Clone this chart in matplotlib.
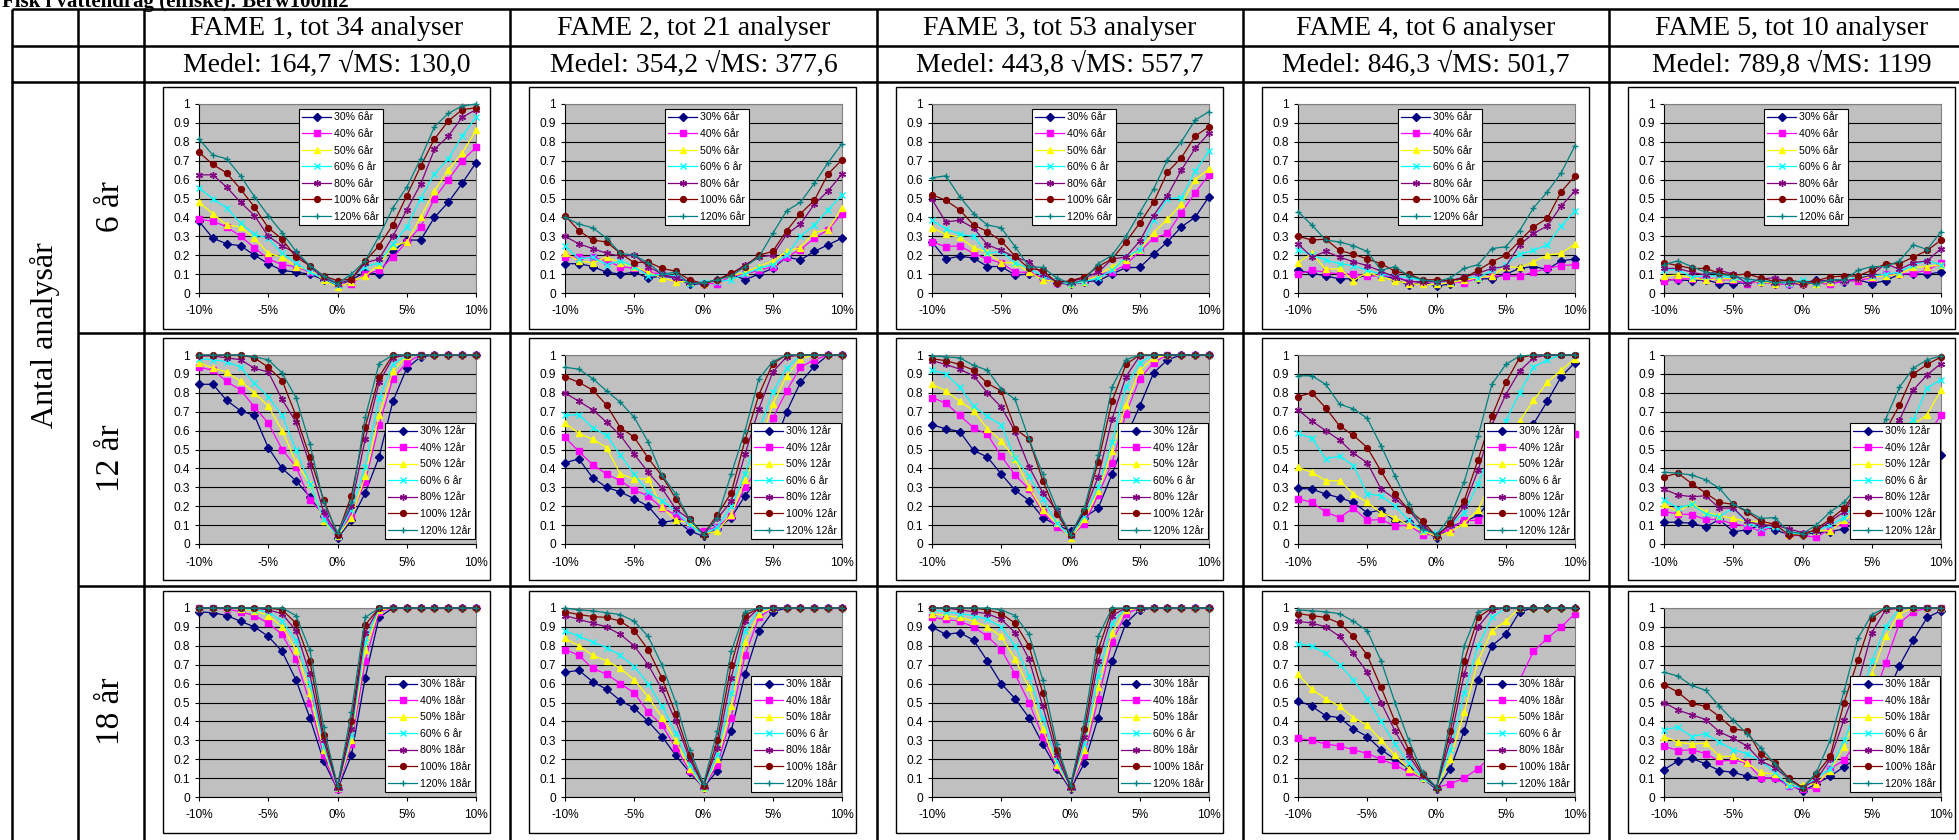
import matplotlib.pyplot as plt
from matplotlib.lines import Line2D
from matplotlib.patches import Rectangle

W, H = 1959, 840

x_pct = list(range(-10, 11))
x_ticks = [-10, -5, 0, 5, 10]
x_ticklabels = ['-10%', '-5%', '0%', '5%', '10%']
y_ticks = [i / 10 for i in range(11)]
y_ticklabels = ['0', '0.1', '0.2', '0.3', '0.4', '0.5', '0.6', '0.7', '0.8', '0.9', '1']

fame_titles = ['FAME 1, tot 34 analyser', 'FAME 2, tot 21 analyser', 'FAME 3, tot 53 analyser',
               'FAME 4, tot 6 analyser', 'FAME 5, tot 10 analyser']
fame_stats = ['Medel: 164,7 √MS: 130,0', 'Medel: 354,2 √MS: 377,6', 'Medel: 443,8 √MS: 557,7',
              'Medel: 846,3 √MS: 501,7', 'Medel: 789,8 √MS: 1199']
row_labels = ['6 år', '12 år', '18 år']
legend_6 = ['30% 6år', '40% 6år', '50% 6år', '60% 6 år', '80% 6år', '100% 6år', '120% 6år']
legend_12 = ['30% 12år', '40% 12år', '50% 12år', '60% 6 år', '80% 12år', '100% 12år', '120% 12år']
legend_18 = ['30% 18år', '40% 18år', '50% 18år', '60% 6 år', '80% 18år', '100% 18år', '120% 18år']

# 6 år
f1_6 = [
    [0.38, 0.29, 0.26, 0.25, 0.20, 0.155, 0.12, 0.11, 0.10, 0.07, 0.04, 0.07, 0.11, 0.10, 0.22, 0.28, 0.28, 0.40, 0.48, 0.58, 0.69],
    [0.39, 0.38, 0.35, 0.30, 0.24, 0.18, 0.15, 0.14, 0.11, 0.08, 0.05, 0.05, 0.10, 0.12, 0.19, 0.27, 0.35, 0.50, 0.60, 0.70, 0.77],
    [0.48, 0.42, 0.36, 0.35, 0.29, 0.21, 0.19, 0.14, 0.12, 0.07, 0.03, 0.06, 0.09, 0.15, 0.25, 0.27, 0.40, 0.54, 0.65, 0.74, 0.86],
    [0.555, 0.50, 0.45, 0.37, 0.31, 0.29, 0.21, 0.16, 0.11, 0.08, 0.04, 0.08, 0.14, 0.16, 0.26, 0.35, 0.50, 0.63, 0.71, 0.83, 0.93],
    [0.625, 0.625, 0.56, 0.48, 0.41, 0.30, 0.25, 0.21, 0.14, 0.08, 0.05, 0.07, 0.16, 0.18, 0.30, 0.44, 0.575, 0.76, 0.83, 0.93, 0.97],
    [0.745, 0.68, 0.635, 0.55, 0.455, 0.345, 0.285, 0.19, 0.145, 0.09, 0.065, 0.075, 0.17, 0.25, 0.36, 0.515, 0.67, 0.815, 0.91, 0.97, 0.98],
    [0.815, 0.73, 0.71, 0.62, 0.51, 0.41, 0.32, 0.22, 0.145, 0.09, 0.05, 0.10, 0.17, 0.30, 0.45, 0.56, 0.71, 0.88, 0.95, 0.99, 1.0],
]
f2_6 = [
    [0.155, 0.155, 0.14, 0.11, 0.10, 0.11, 0.08, 0.09, 0.08, 0.045, 0.05, 0.07, 0.10, 0.07, 0.10, 0.13, 0.19, 0.175, 0.22, 0.255, 0.29],
    [0.19, 0.19, 0.19, 0.17, 0.14, 0.13, 0.11, 0.10, 0.08, 0.06, 0.05, 0.05, 0.09, 0.10, 0.12, 0.14, 0.19, 0.23, 0.29, 0.335, 0.42],
    [0.21, 0.17, 0.16, 0.19, 0.16, 0.14, 0.11, 0.08, 0.06, 0.06, 0.05, 0.07, 0.09, 0.11, 0.14, 0.17, 0.22, 0.24, 0.32, 0.335, 0.45],
    [0.25, 0.18, 0.19, 0.15, 0.17, 0.14, 0.09, 0.10, 0.09, 0.05, 0.06, 0.06, 0.07, 0.10, 0.13, 0.15, 0.20, 0.30, 0.36, 0.44, 0.52],
    [0.30, 0.26, 0.235, 0.21, 0.195, 0.20, 0.14, 0.10, 0.08, 0.06, 0.05, 0.07, 0.10, 0.15, 0.19, 0.20, 0.31, 0.365, 0.47, 0.54, 0.63],
    [0.41, 0.33, 0.28, 0.27, 0.21, 0.16, 0.165, 0.13, 0.115, 0.07, 0.05, 0.07, 0.105, 0.14, 0.20, 0.22, 0.33, 0.42, 0.49, 0.63, 0.705],
    [0.40, 0.365, 0.345, 0.29, 0.21, 0.20, 0.16, 0.10, 0.11, 0.05, 0.055, 0.07, 0.09, 0.14, 0.19, 0.315, 0.435, 0.48, 0.58, 0.69, 0.79],
]
f3_6 = [
    [0.27, 0.18, 0.195, 0.185, 0.14, 0.14, 0.095, 0.10, 0.08, 0.055, 0.045, 0.06, 0.065, 0.10, 0.135, 0.135, 0.205, 0.27, 0.35, 0.40, 0.51],
    [0.27, 0.245, 0.25, 0.21, 0.18, 0.16, 0.11, 0.11, 0.08, 0.055, 0.055, 0.06, 0.10, 0.11, 0.15, 0.22, 0.29, 0.315, 0.425, 0.53, 0.625],
    [0.345, 0.31, 0.295, 0.24, 0.215, 0.16, 0.16, 0.11, 0.07, 0.06, 0.05, 0.06, 0.095, 0.14, 0.175, 0.23, 0.32, 0.39, 0.47, 0.60, 0.655],
    [0.385, 0.34, 0.31, 0.30, 0.21, 0.22, 0.16, 0.13, 0.09, 0.06, 0.05, 0.06, 0.08, 0.12, 0.19, 0.23, 0.385, 0.50, 0.505, 0.645, 0.75],
    [0.495, 0.375, 0.385, 0.345, 0.255, 0.225, 0.19, 0.165, 0.10, 0.06, 0.06, 0.08, 0.11, 0.18, 0.19, 0.275, 0.41, 0.515, 0.65, 0.765, 0.845],
    [0.52, 0.49, 0.44, 0.36, 0.325, 0.275, 0.195, 0.13, 0.12, 0.055, 0.065, 0.085, 0.14, 0.18, 0.27, 0.37, 0.48, 0.64, 0.715, 0.83, 0.88],
    [0.61, 0.62, 0.51, 0.42, 0.36, 0.345, 0.245, 0.14, 0.135, 0.08, 0.05, 0.07, 0.155, 0.20, 0.30, 0.425, 0.55, 0.705, 0.80, 0.915, 0.96],
]
f4_6 = [
    [0.12, 0.105, 0.09, 0.075, 0.075, 0.095, 0.095, 0.075, 0.04, 0.06, 0.035, 0.05, 0.08, 0.075, 0.075, 0.10, 0.13, 0.14, 0.125, 0.17, 0.18],
    [0.10, 0.12, 0.11, 0.10, 0.10, 0.09, 0.09, 0.09, 0.06, 0.06, 0.06, 0.06, 0.055, 0.08, 0.09, 0.09, 0.09, 0.11, 0.13, 0.145, 0.15],
    [0.16, 0.21, 0.125, 0.13, 0.065, 0.11, 0.085, 0.065, 0.05, 0.045, 0.045, 0.055, 0.07, 0.08, 0.09, 0.14, 0.135, 0.165, 0.20, 0.21, 0.26],
    [0.23, 0.20, 0.175, 0.155, 0.145, 0.12, 0.10, 0.09, 0.08, 0.065, 0.06, 0.06, 0.085, 0.08, 0.12, 0.15, 0.205, 0.225, 0.255, 0.355, 0.435],
    [0.26, 0.19, 0.22, 0.19, 0.165, 0.145, 0.115, 0.085, 0.06, 0.06, 0.06, 0.065, 0.085, 0.105, 0.13, 0.14, 0.255, 0.315, 0.355, 0.46, 0.54],
    [0.30, 0.28, 0.285, 0.225, 0.205, 0.18, 0.155, 0.115, 0.10, 0.07, 0.07, 0.065, 0.08, 0.12, 0.165, 0.20, 0.275, 0.35, 0.395, 0.535, 0.62],
    [0.43, 0.36, 0.28, 0.27, 0.25, 0.22, 0.12, 0.14, 0.09, 0.07, 0.06, 0.08, 0.13, 0.15, 0.235, 0.245, 0.33, 0.45, 0.535, 0.635, 0.78],
]
f5_6 = [
    [0.07, 0.07, 0.065, 0.07, 0.05, 0.05, 0.055, 0.06, 0.05, 0.05, 0.05, 0.07, 0.06, 0.06, 0.07, 0.05, 0.065, 0.10, 0.10, 0.10, 0.11],
    [0.065, 0.075, 0.075, 0.08, 0.07, 0.07, 0.05, 0.06, 0.045, 0.05, 0.05, 0.055, 0.045, 0.065, 0.065, 0.08, 0.10, 0.10, 0.105, 0.12, 0.16],
    [0.09, 0.095, 0.08, 0.07, 0.075, 0.075, 0.06, 0.06, 0.05, 0.06, 0.045, 0.05, 0.06, 0.07, 0.08, 0.085, 0.09, 0.10, 0.135, 0.14, 0.15],
    [0.12, 0.125, 0.085, 0.09, 0.09, 0.08, 0.06, 0.065, 0.06, 0.05, 0.07, 0.055, 0.07, 0.065, 0.085, 0.09, 0.10, 0.11, 0.15, 0.17, 0.15],
    [0.13, 0.13, 0.11, 0.095, 0.12, 0.10, 0.05, 0.075, 0.08, 0.06, 0.04, 0.06, 0.07, 0.065, 0.075, 0.095, 0.155, 0.125, 0.16, 0.17, 0.235],
    [0.16, 0.145, 0.13, 0.13, 0.105, 0.095, 0.10, 0.08, 0.06, 0.07, 0.055, 0.065, 0.085, 0.09, 0.09, 0.12, 0.155, 0.155, 0.19, 0.225, 0.28],
    [0.15, 0.17, 0.14, 0.11, 0.10, 0.09, 0.075, 0.065, 0.055, 0.06, 0.06, 0.045, 0.07, 0.07, 0.12, 0.14, 0.14, 0.17, 0.255, 0.23, 0.325],
]

# 12 år
f1_12 = [
    [0.845, 0.845, 0.76, 0.705, 0.68, 0.51, 0.40, 0.335, 0.25, 0.15, 0.03, 0.125, 0.27, 0.46, 0.755, 0.93, 0.99, 1, 1, 1, 1],
    [0.935, 0.92, 0.86, 0.815, 0.725, 0.64, 0.50, 0.41, 0.235, 0.155, 0.04, 0.155, 0.33, 0.63, 0.875, 0.96, 1, 1, 1, 1, 1],
    [0.96, 0.93, 0.91, 0.86, 0.80, 0.73, 0.60, 0.435, 0.32, 0.12, 0.04, 0.14, 0.36, 0.68, 0.915, 0.995, 1, 1, 1, 1, 1],
    [0.98, 0.975, 0.965, 0.935, 0.85, 0.78, 0.68, 0.50, 0.32, 0.13, 0.04, 0.18, 0.41, 0.77, 0.95, 1, 1, 1, 1, 1, 1],
    [0.995, 0.995, 0.985, 0.975, 0.93, 0.91, 0.765, 0.645, 0.42, 0.17, 0.05, 0.20, 0.555, 0.855, 0.985, 1, 1, 1, 1, 1, 1],
    [1, 1, 1, 1, 0.985, 0.935, 0.865, 0.68, 0.46, 0.235, 0.05, 0.255, 0.62, 0.885, 1, 1, 1, 1, 1, 1, 1],
    [1, 1, 1, 1, 0.99, 0.975, 0.905, 0.775, 0.53, 0.22, 0.06, 0.22, 0.67, 0.955, 1, 1, 1, 1, 1, 1, 1],
]
f2_12 = [
    [0.43, 0.45, 0.35, 0.30, 0.275, 0.24, 0.20, 0.115, 0.125, 0.07, 0.04, 0.08, 0.14, 0.255, 0.355, 0.50, 0.70, 0.855, 0.94, 1, 1],
    [0.565, 0.49, 0.42, 0.37, 0.335, 0.285, 0.255, 0.19, 0.155, 0.10, 0.07, 0.09, 0.15, 0.30, 0.41, 0.665, 0.81, 0.935, 0.975, 1, 1],
    [0.64, 0.585, 0.555, 0.51, 0.37, 0.345, 0.345, 0.195, 0.125, 0.115, 0.05, 0.07, 0.155, 0.34, 0.51, 0.74, 0.89, 0.98, 1, 1, 1],
    [0.68, 0.685, 0.615, 0.575, 0.47, 0.37, 0.275, 0.23, 0.175, 0.10, 0.05, 0.09, 0.20, 0.37, 0.60, 0.805, 0.93, 1, 1, 1, 1],
    [0.80, 0.755, 0.71, 0.645, 0.575, 0.475, 0.38, 0.295, 0.185, 0.13, 0.05, 0.135, 0.225, 0.475, 0.715, 0.91, 0.99, 1, 1, 1, 1],
    [0.885, 0.855, 0.815, 0.735, 0.615, 0.565, 0.455, 0.36, 0.24, 0.13, 0.05, 0.155, 0.27, 0.55, 0.79, 0.955, 1, 1, 1, 1, 1],
    [0.935, 0.925, 0.875, 0.81, 0.75, 0.67, 0.54, 0.365, 0.265, 0.13, 0.05, 0.14, 0.37, 0.60, 0.875, 0.965, 1, 1, 1, 1, 1],
]
f3_12 = [
    [0.63, 0.61, 0.595, 0.495, 0.46, 0.37, 0.285, 0.23, 0.14, 0.10, 0.07, 0.14, 0.19, 0.37, 0.565, 0.73, 0.905, 0.975, 1, 1, 1],
    [0.775, 0.745, 0.68, 0.615, 0.58, 0.465, 0.365, 0.29, 0.17, 0.09, 0.04, 0.105, 0.26, 0.43, 0.69, 0.875, 0.96, 1, 1, 1, 1],
    [0.845, 0.81, 0.755, 0.705, 0.61, 0.545, 0.45, 0.30, 0.18, 0.11, 0.03, 0.13, 0.28, 0.49, 0.735, 0.92, 0.985, 1, 1, 1, 1],
    [0.92, 0.90, 0.83, 0.73, 0.675, 0.63, 0.455, 0.36, 0.24, 0.11, 0.04, 0.15, 0.30, 0.54, 0.83, 0.96, 1, 1, 1, 1, 1],
    [0.97, 0.95, 0.925, 0.89, 0.80, 0.725, 0.595, 0.41, 0.27, 0.18, 0.05, 0.17, 0.355, 0.66, 0.885, 0.995, 1, 1, 1, 1, 1],
    [0.98, 0.97, 0.95, 0.92, 0.85, 0.81, 0.61, 0.555, 0.335, 0.16, 0.05, 0.175, 0.435, 0.755, 0.95, 1, 1, 1, 1, 1, 1],
    [0.995, 0.99, 0.985, 0.945, 0.92, 0.82, 0.765, 0.555, 0.37, 0.19, 0.05, 0.19, 0.47, 0.83, 0.975, 1, 1, 1, 1, 1, 1],
]
f4_12 = [
    [0.295, 0.29, 0.265, 0.245, 0.22, 0.165, 0.18, 0.12, 0.115, 0.08, 0.03, 0.09, 0.12, 0.15, 0.24, 0.40, 0.555, 0.635, 0.755, 0.885, 0.96],
    [0.24, 0.22, 0.17, 0.14, 0.19, 0.125, 0.13, 0.095, 0.10, 0.05, 0.05, 0.08, 0.125, 0.125, 0.18, 0.27, 0.41, 0.51, 0.555, 0.58, 0.58],
    [0.405, 0.38, 0.335, 0.335, 0.265, 0.22, 0.165, 0.14, 0.10, 0.07, 0.04, 0.065, 0.11, 0.18, 0.34, 0.53, 0.65, 0.76, 0.855, 0.92, 0.98],
    [0.585, 0.56, 0.45, 0.465, 0.415, 0.265, 0.255, 0.20, 0.125, 0.07, 0.06, 0.10, 0.165, 0.32, 0.50, 0.65, 0.80, 0.935, 0.975, 1, 1],
    [0.71, 0.65, 0.60, 0.55, 0.48, 0.43, 0.29, 0.24, 0.18, 0.09, 0.05, 0.10, 0.20, 0.39, 0.63, 0.79, 0.915, 0.985, 1, 1, 1],
    [0.78, 0.80, 0.72, 0.625, 0.575, 0.51, 0.385, 0.265, 0.18, 0.12, 0.04, 0.11, 0.23, 0.445, 0.675, 0.855, 0.985, 1, 1, 1, 1],
    [0.89, 0.89, 0.845, 0.74, 0.715, 0.665, 0.52, 0.36, 0.21, 0.08, 0.05, 0.145, 0.33, 0.57, 0.845, 0.95, 0.995, 1, 1, 1, 1],
]
f5_12 = [
    [0.115, 0.115, 0.11, 0.09, 0.13, 0.065, 0.075, 0.10, 0.075, 0.05, 0.05, 0.06, 0.065, 0.08, 0.12, 0.17, 0.24, 0.30, 0.37, 0.43, 0.47],
    [0.17, 0.16, 0.155, 0.13, 0.13, 0.105, 0.095, 0.065, 0.10, 0.045, 0.045, 0.035, 0.08, 0.11, 0.12, 0.20, 0.28, 0.35, 0.45, 0.58, 0.68],
    [0.21, 0.17, 0.215, 0.17, 0.15, 0.135, 0.12, 0.12, 0.10, 0.05, 0.05, 0.07, 0.07, 0.125, 0.18, 0.30, 0.45, 0.56, 0.63, 0.685, 0.815],
    [0.235, 0.19, 0.21, 0.16, 0.145, 0.19, 0.11, 0.085, 0.09, 0.06, 0.05, 0.07, 0.10, 0.14, 0.23, 0.38, 0.50, 0.60, 0.655, 0.825, 0.87],
    [0.29, 0.26, 0.25, 0.255, 0.19, 0.19, 0.12, 0.10, 0.10, 0.08, 0.06, 0.07, 0.12, 0.17, 0.29, 0.45, 0.55, 0.655, 0.815, 0.895, 0.955],
    [0.355, 0.375, 0.32, 0.27, 0.22, 0.21, 0.17, 0.12, 0.105, 0.05, 0.045, 0.08, 0.13, 0.19, 0.295, 0.45, 0.60, 0.735, 0.90, 0.95, 0.99],
    [0.38, 0.375, 0.365, 0.34, 0.295, 0.21, 0.175, 0.135, 0.14, 0.065, 0.055, 0.10, 0.17, 0.22, 0.31, 0.50, 0.66, 0.83, 0.93, 0.975, 0.995],
]

# 18 år
f1_18 = [
    [0.98, 0.975, 0.96, 0.93, 0.90, 0.85, 0.77, 0.62, 0.42, 0.19, 0.04, 0.22, 0.63, 0.95, 1, 1, 1, 1, 1, 1, 1],
    [1, 1, 0.995, 0.98, 0.96, 0.92, 0.86, 0.73, 0.50, 0.22, 0.04, 0.28, 0.72, 0.98, 1, 1, 1, 1, 1, 1, 1],
    [1, 1, 1, 0.995, 0.985, 0.96, 0.90, 0.78, 0.55, 0.25, 0.05, 0.30, 0.78, 0.99, 1, 1, 1, 1, 1, 1, 1],
    [1, 1, 1, 1, 0.99, 0.98, 0.93, 0.83, 0.60, 0.27, 0.05, 0.33, 0.82, 1, 1, 1, 1, 1, 1, 1, 1],
    [1, 1, 1, 1, 1, 0.99, 0.97, 0.88, 0.65, 0.30, 0.05, 0.36, 0.87, 1, 1, 1, 1, 1, 1, 1, 1],
    [1, 1, 1, 1, 1, 1, 0.99, 0.92, 0.72, 0.33, 0.06, 0.40, 0.91, 1, 1, 1, 1, 1, 1, 1, 1],
    [1, 1, 1, 1, 1, 1, 1, 0.96, 0.78, 0.37, 0.06, 0.45, 0.95, 1, 1, 1, 1, 1, 1, 1, 1],
]
f2_18 = [
    [0.66, 0.67, 0.61, 0.57, 0.51, 0.47, 0.40, 0.32, 0.22, 0.13, 0.05, 0.14, 0.35, 0.65, 0.88, 0.98, 1, 1, 1, 1, 1],
    [0.78, 0.75, 0.68, 0.65, 0.60, 0.55, 0.45, 0.38, 0.26, 0.14, 0.05, 0.17, 0.42, 0.75, 0.95, 1, 1, 1, 1, 1, 1],
    [0.84, 0.80, 0.75, 0.72, 0.68, 0.62, 0.53, 0.42, 0.30, 0.15, 0.05, 0.20, 0.48, 0.82, 0.97, 1, 1, 1, 1, 1, 1],
    [0.88, 0.85, 0.82, 0.79, 0.75, 0.69, 0.60, 0.48, 0.34, 0.17, 0.05, 0.22, 0.55, 0.88, 0.99, 1, 1, 1, 1, 1, 1],
    [0.96, 0.94, 0.92, 0.90, 0.86, 0.80, 0.70, 0.57, 0.40, 0.20, 0.06, 0.26, 0.63, 0.93, 1, 1, 1, 1, 1, 1, 1],
    [0.98, 0.965, 0.955, 0.95, 0.93, 0.88, 0.78, 0.63, 0.44, 0.22, 0.06, 0.30, 0.70, 0.96, 1, 1, 1, 1, 1, 1, 1],
    [1, 0.99, 0.985, 0.975, 0.965, 0.93, 0.85, 0.70, 0.50, 0.25, 0.07, 0.35, 0.77, 0.98, 1, 1, 1, 1, 1, 1, 1],
]
f3_18 = [
    [0.90, 0.86, 0.87, 0.83, 0.72, 0.60, 0.52, 0.42, 0.28, 0.15, 0.04, 0.18, 0.42, 0.72, 0.92, 0.99, 1, 1, 1, 1, 1],
    [0.95, 0.94, 0.93, 0.90, 0.85, 0.78, 0.65, 0.50, 0.32, 0.16, 0.05, 0.22, 0.52, 0.82, 0.97, 1, 1, 1, 1, 1, 1],
    [0.97, 0.96, 0.95, 0.93, 0.90, 0.85, 0.73, 0.58, 0.36, 0.17, 0.05, 0.25, 0.58, 0.87, 0.99, 1, 1, 1, 1, 1, 1],
    [0.99, 0.98, 0.97, 0.96, 0.94, 0.90, 0.80, 0.64, 0.42, 0.19, 0.05, 0.28, 0.64, 0.92, 1, 1, 1, 1, 1, 1, 1],
    [1, 1, 0.99, 0.98, 0.97, 0.94, 0.87, 0.73, 0.48, 0.22, 0.05, 0.32, 0.72, 0.96, 1, 1, 1, 1, 1, 1, 1],
    [1, 1, 1, 1, 0.99, 0.97, 0.92, 0.80, 0.55, 0.25, 0.06, 0.36, 0.78, 0.99, 1, 1, 1, 1, 1, 1, 1],
    [1, 1, 1, 1, 1, 0.99, 0.96, 0.86, 0.62, 0.28, 0.06, 0.40, 0.85, 1, 1, 1, 1, 1, 1, 1, 1],
]
f4_18 = [
    [0.51, 0.48, 0.43, 0.42, 0.36, 0.32, 0.25, 0.20, 0.15, 0.10, 0.04, 0.15, 0.35, 0.62, 0.80, 0.86, 0.98, 1, 1, 1, 1],
    [0.31, 0.30, 0.28, 0.27, 0.25, 0.23, 0.20, 0.17, 0.13, 0.10, 0.05, 0.07, 0.10, 0.15, 0.22, 0.35, 0.62, 0.77, 0.84, 0.90, 0.97],
    [0.65, 0.57, 0.52, 0.48, 0.42, 0.38, 0.30, 0.22, 0.15, 0.10, 0.05, 0.20, 0.45, 0.72, 0.88, 0.93, 1, 1, 1, 1, 1],
    [0.81, 0.80, 0.76, 0.70, 0.62, 0.52, 0.40, 0.28, 0.18, 0.10, 0.05, 0.25, 0.55, 0.80, 0.95, 1, 1, 1, 1, 1, 1],
    [0.93, 0.92, 0.90, 0.85, 0.76, 0.66, 0.50, 0.35, 0.22, 0.11, 0.05, 0.30, 0.65, 0.90, 0.99, 1, 1, 1, 1, 1, 1],
    [0.97, 0.96, 0.95, 0.92, 0.85, 0.75, 0.58, 0.40, 0.25, 0.12, 0.05, 0.35, 0.72, 0.95, 1, 1, 1, 1, 1, 1, 1],
    [0.99, 0.985, 0.98, 0.97, 0.93, 0.88, 0.72, 0.50, 0.30, 0.13, 0.05, 0.40, 0.80, 0.98, 1, 1, 1, 1, 1, 1, 1],
]
f5_18 = [
    [0.145, 0.19, 0.205, 0.175, 0.14, 0.13, 0.11, 0.10, 0.10, 0.07, 0.03, 0.07, 0.11, 0.16, 0.21, 0.35, 0.52, 0.695, 0.83, 0.95, 0.985],
    [0.27, 0.245, 0.25, 0.23, 0.19, 0.195, 0.18, 0.10, 0.10, 0.06, 0.04, 0.05, 0.15, 0.195, 0.30, 0.50, 0.71, 0.92, 0.98, 1, 1],
    [0.32, 0.29, 0.28, 0.285, 0.215, 0.215, 0.18, 0.13, 0.12, 0.07, 0.065, 0.07, 0.14, 0.265, 0.45, 0.65, 0.85, 0.97, 1, 1, 1],
    [0.355, 0.37, 0.32, 0.335, 0.29, 0.25, 0.23, 0.19, 0.13, 0.06, 0.05, 0.10, 0.15, 0.30, 0.48, 0.72, 0.90, 1, 1, 1, 1],
    [0.50, 0.46, 0.435, 0.41, 0.345, 0.31, 0.27, 0.19, 0.155, 0.095, 0.05, 0.09, 0.20, 0.41, 0.60, 0.87, 0.99, 1, 1, 1, 1],
    [0.595, 0.555, 0.495, 0.48, 0.425, 0.36, 0.35, 0.225, 0.18, 0.10, 0.05, 0.12, 0.215, 0.50, 0.725, 0.945, 1, 1, 1, 1, 1],
    [0.66, 0.64, 0.59, 0.565, 0.48, 0.405, 0.335, 0.26, 0.175, 0.09, 0.045, 0.13, 0.30, 0.56, 0.84, 0.965, 1, 1, 1, 1, 1],
]

grid_data = [
    [f1_6, f2_6, f3_6, f4_6, f5_6],
    [f1_12, f2_12, f3_12, f4_12, f5_12],
    [f1_18, f2_18, f3_18, f4_18, f5_18],
]
legend_rows = [legend_6, legend_12, legend_18]

colors = ['#000080', '#FF00FF', '#FFFF00', '#00FFFF', '#800080', '#800000', '#008080']
markers = ['D', 's', '^', 'x', (6, 2, 0), 'o', '+']
msizes = [3.6, 4.0, 4.6, 4.6, 5.0, 4.2, 5.0]

serif = ['Liberation Serif', 'DejaVu Serif']
sans = ['Liberation Sans', 'DejaVu Sans']

# table geometry (pixels)
col_x = [12, 78, 144, 510, 877, 1243, 1609, 1975]
row_y = [82, 333, 586]
head_y = [9, 46, 82]


def fx(px):
    return px / W


def fy(py):
    return 1 - py / H


fig = plt.figure(figsize=(W / 100, H / 100), dpi=100)


def hline(y, x0, x1, lw=1.8):
    fig.add_artist(Line2D([fx(x0), fx(x1)], [fy(y), fy(y)], color='black', lw=lw,
                          transform=fig.transFigure, solid_capstyle='butt'))


def vline(x, y0, y1, lw=1.8):
    fig.add_artist(Line2D([fx(x), fx(x)], [fy(y0), fy(y1)], color='black', lw=lw,
                          transform=fig.transFigure, solid_capstyle='butt'))


for y in head_y:
    hline(y, col_x[0], W)
for y in row_y[1:]:
    hline(y, col_x[1], W)
for x in col_x[:-1]:
    vline(x, head_y[0], H)

# title sits mostly above the page edge, as in the source
fig.text(fx(2), fy(7), 'Fisk i vattendrag (elfiske): Berw100m2', fontsize=15, fontweight='bold',
         family=serif, ha='left', va='baseline')

for c in range(5):
    cx = (col_x[c + 2] + col_x[c + 3]) / 2
    fig.text(fx(cx), fy((head_y[0] + head_y[1]) / 2 + 1), fame_titles[c], fontsize=20,
             family=serif, ha='center', va='center')
    fig.text(fx(cx), fy((head_y[1] + head_y[2]) / 2 + 1), fame_stats[c], fontsize=20,
             family=serif, ha='center', va='center')

fig.text(fx((col_x[0] + col_x[1]) / 2), fy(335), 'Antal analysår', fontsize=23, family=serif,
         rotation=90, ha='center', va='center')

for r in range(3):
    top = row_y[r]
    fig.text(fx((col_x[1] + col_x[2]) / 2), fy(top + 125), row_labels[r], fontsize=24,
             family=serif, rotation=90, ha='center', va='center')
    for c in range(5):
        left = col_x[c + 2]
        fig.add_artist(Rectangle((fx(left + 19), fy(top + 247)), 327 / W, 242 / H,
                                 transform=fig.transFigure, facecolor='white',
                                 edgecolor='black', lw=1.0, zorder=0))
        ax = fig.add_axes([fx(left + 55), fy(top + 211), 277 / W, 189 / H])
        ax.set_facecolor('#C0C0C0')
        series = grid_data[r][c]
        for i in range(7):
            ax.plot(x_pct, series[i], color=colors[i], marker=markers[i], ms=msizes[i],
                    mec=colors[i], mfc=colors[i], mew=1.0, lw=0.9, label=legend_rows[r][i],
                    clip_on=False, zorder=3)
        ax.set_xlim(-10, 10)
        ax.set_ylim(0, 1)
        ax.set_yticks(y_ticks)
        ax.set_yticklabels(y_ticklabels)
        ax.set_xticks(x_ticks)
        ax.set_xticklabels(x_ticklabels)
        ax.yaxis.grid(True, color='black', lw=0.8)
        ax.set_axisbelow(True)
        ax.tick_params(axis='both', direction='out', length=3, width=0.8, labelsize=8.6,
                       colors='black', pad=3.5)
        ax.tick_params(axis='x', pad=6)
        for lab in ax.get_xticklabels() + ax.get_yticklabels():
            lab.set_family(sans)
        for s in ['left', 'bottom']:
            ax.spines[s].set_color('black')
            ax.spines[s].set_linewidth(0.8)
        ax.spines['top'].set_color('#808080')
        ax.spines['right'].set_color('#808080')
        ax.spines['top'].set_linewidth(0.8)
        ax.spines['right'].set_linewidth(0.8)
        leg_kw = dict(prop={'family': sans, 'size': 7.6}, handlelength=2.7, handletextpad=0.3,
                      labelspacing=0.62, borderpad=0.35, borderaxespad=0, fancybox=False,
                      framealpha=1, edgecolor='black')
        if r == 0:
            lg = ax.legend(loc='upper left', bbox_to_anchor=(0.36, 0.975), **leg_kw)
        else:
            lg = ax.legend(loc='lower right', bbox_to_anchor=(0.995, 0.025), **leg_kw)
        lg.get_frame().set_linewidth(0.8)
        lg.set_zorder(5)

fig.savefig('out.png', dpi=100)
